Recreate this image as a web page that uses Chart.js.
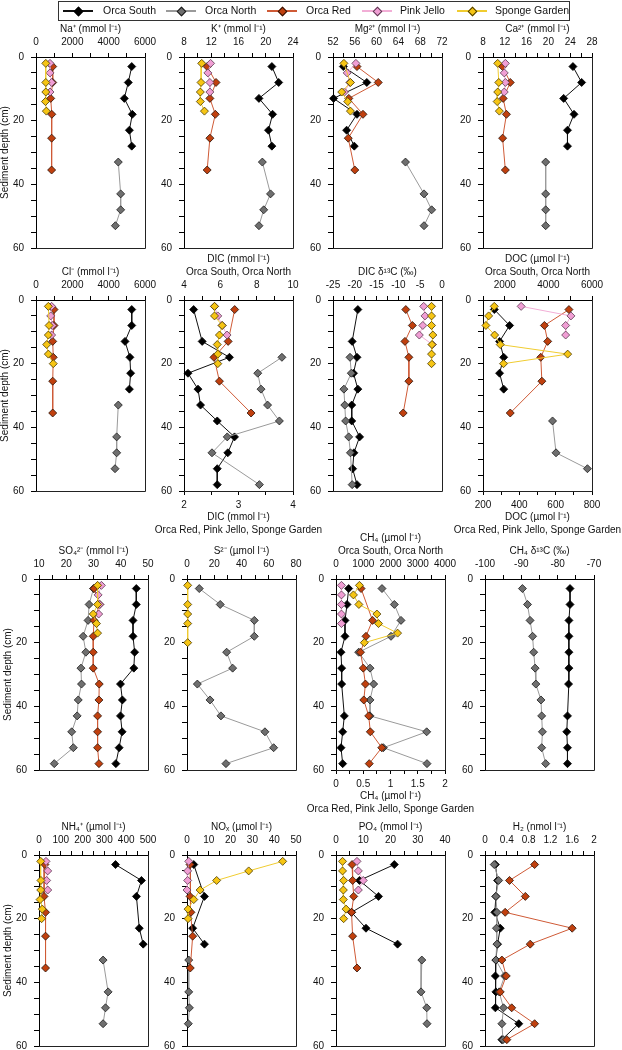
<!DOCTYPE html>
<html>
<head>
<meta charset="utf-8">
<script src="https://cdn.jsdelivr.net/npm/chart.js@4.4.0/dist/chart.umd.min.js"></script>
<style>
body { margin: 0; background: #fff; width: 622px; height: 1050px; position: relative; overflow: hidden;
       font-family: "Liberation Sans", Arial, sans-serif; }
canvas { position: absolute; }
#legend { position: absolute; left: 58px; top: 1px; width: 510px; height: 18px; border: 1px solid #333; }
.lg { position: absolute; }
</style>
</head>
<body>
<div id="legend"></div>
<script>
// stations
const stations = ['Orca South', 'Orca North', 'Orca Red', 'Pink Jello', 'Sponge Garden'];

// sample depths (cm)
const depth12 = [3, 8, 13, 18, 23, 28, 33, 38, 43, 48, 53, 58];
const depthSouth = [3, 8, 13, 18, 23, 28];
const depthNorth = [33, 43, 48, 53];
const depthRed = [3, 8, 13, 18, 25.5, 35.5];
const depthRed5 = [3, 13, 18, 25.5, 35.5];
const depthPink = [2, 5, 8, 11];
const depthPink5 = [2, 5, 8, 11, 14];
const depthSponge = [2, 5, 8, 11, 14, 17, 20];
const depthSponge5 = [2, 8, 11, 14, 17];
const depthSponge6 = [2, 8, 11, 14, 17, 20];
const depthNo8 = [3, 13, 18, 23, 28, 33, 38, 43, 48, 53, 58];
const depthNo38 = [3, 8, 13, 18, 23, 28, 33, 43, 48, 53, 58];
const depthDeep = [18, 23, 28, 33, 38, 43, 48, 58];

// Na+
const naSouth = [5270, 5080, 4860, 5300, 5140, 5270];
const naNorth = [4530, 4660, 4660, 4370];
const naRed = [920, 920, 810, 870, 860, 860];
const naPink = [770, 770, 860, 770];
const naSponge = [540, 540, 540, 520, 570];
// K+
const kSouth = [20.9, 21.9, 19.0, 21.0, 20.4, 20.9];
const kNorth = [19.5, 20.7, 19.7, 19.0];
const kRed = [11.4, 12.7, 11.8, 12.6, 11.8, 11.4];
const kPink = [11.9, 11.5, 11.8, 11.8];
const kSponge = [10.6, 10.5, 10.4, 10.4, 11.0];
// Mg2+
const mgSouth = [53.9, 58.2, 52.1, 56.4, 54.5, 55.9];
const mgNorth = [65.3, 68.7, 70.1, 68.7];
const mgRed = [56.4, 60.3, 54.9, 57.5, 54.8, 56.0];
const mgPink = [56.2, 54.6, 55.1, 54.1];
const mgSponge = [54.0, 55.2, 53.6, 54.7, 55.2];
// Ca2+
const caSouth = [24.5, 26.1, 22.8, 24.7, 23.5, 23.5];
const caNorth = [19.5, 19.5, 19.5, 19.5];
const caRed = [11.6, 13.0, 11.7, 12.3, 11.6, 12.1];
const caPink = [12.1, 11.9, 12.1, 11.9];
const caSponge = [10.7, 10.9, 10.7, 10.6, 11.0];
// Cl-
const clSouth = [5270, 5270, 4900, 5170, 5210, 5140];
const clNorth = [4530, 4440, 4440, 4350];
const clRed = [990, 990, 920, 950, 920, 920];
const clPink = [860, 810, 900, 860];
const clSponge = [680, 720, 680, 590, 680, 950];
// DIC (top axis: South, North; bottom axis: Red, Pink, Sponge)
const dicSouth = [4.53, 5.0, 6.5, 4.22, 4.77, 4.91, 5.83, 6.78, 6.41, 5.83, 5.83];
const dicNorth = [9.39, 8.06, 8.24, 8.6, 9.25, 6.38, 5.54, 8.15];
const dicRed = [2.93, 2.81, 2.55, 2.65, 3.23];
const dicPink = [2.56, 2.62, 2.70, 2.79];
const dicSponge = [2.56, 2.56, 2.70, 2.65, 2.61, 2.62, 2.62];
// DIC d13C
const d13South = [-19.3, -20.6, -19.5, -20.3, -19.3, -20.7, -20.7, -18.9, -20.2, -20.5, -19.5];
const d13North = [-21.1, -20.8, -22.5, -22.3, -22.1, -21.4, -21.0, -20.6];
const d13Red = [-8.3, -6.8, -8.5, -7.6, -7.6, -8.9];
const d13Pink = [-4.2, -3.9, -4.4, -5.2, -2.2];
const d13Sponge = [-2.4, -2.4, -2.4, -2.1, -2.3, -2.4, -2.4];
// DOC
const docSouth = [1520, 2220, 1760, 1950, 1760, 1950];
const docNorthDepth = [38, 48, 53];
const docNorth = [4190, 4350, 5790];
const docRed = [673, 538, 556, 518, 524, 350];
const docPink = [410, 684, 655, 655];
const docSponge = [262, 231, 216, 264, 295, 666, 313];
// SO4 2-
const so4South = [45.7, 45.7, 44.5, 44.5, 45.1, 44.8, 39.9, 40.6, 39.9, 40.5, 39.4, 38.2];
const so4North = [30.0, 28.4, 28.0, 26.2, 27.2, 25.4, 25.6, 24.4, 24.0, 22.0, 22.6, 15.6];
const so4Red = [30.2, 32.3, 30.2, 29.9, 29.9, 29.9, 32.1, 32.0, 31.5, 31.5, 31.5, 32.0];
const so4Pink = [32.9, 31.7, 32.3, 31.9];
const so4Sponge = [31.5, 31.5, 29.9, 31.1, 31.5];
// S2-
const s2North = [9.0, 24.4, 49.4, 49.4, 29.1, 33.5, 7.6, 16.9, 24.9, 57.2, 63.6, 28.6];
const s2SpongeDepth = [2, 8, 11, 14, 20];
const s2Sponge = [0.5, 0.5, 0.5, 0.5, 0.5];
// CH4 (top axis: South, North; bottom axis: Red, Pink, Sponge)
const ch4South = [465, 404, 330, 330, 183, 208, 208, 306, 245, 183, 245];
const ch4North = [1688, 2141, 2385, 2018, 832, 1248, 1382, 1248, 1248, 3327, 1737, 3339];
const ch4Red = [0.46, 0.67, 0.55, 0.45, 0.50, 0.54, 0.51, 0.60, 0.63, 0.84, 0.61];
const ch4Pink = [0.10, 0.10, 0.10, 0.10, 0.10];
const ch4Sponge = [0.43, 0.32, 0.42, 0.75, 0.78, 1.13, 0.52];
// CH4 d13C
const cd13South = [-76.6, -76.6, -76.9, -76.9, -76.9, -76.9, -77.0, -77.3, -77.5, -77.3, -77.3];
const cd13North = [-89.7, -88.3, -87.6, -86.9, -86.6, -86.2, -86.0, -84.6, -84.4, -84.2, -84.4, -83.3];
// NH4+
const nh4SouthDepth = [3, 8, 13, 23, 28];
const nh4South = [351, 470, 447, 460, 478];
const nh4North = [294, 317, 305, 294];
const nh4Red = [27, 23, 30, 30, 30];
const nh4Pink = [32, 40, 35, 40];
const nh4Sponge = [8, 9, 8, 5, 15, 12];
// NOx
const noxSouthDepth = [3, 13, 23, 28];
const noxSouth = [3.1, 8.0, 2.6, 8.0];
const noxNorth = [0.8, 0.8, 1.1, 0.6];
const noxRed = [1.4, 1.4, 1.8, 2.6, 1.5];
const noxPink = [0.8, 0.3, 0.3, 0.0];
const noxSponge = [43.9, 28.3, 13.6, 6.0, 3.1, 0.5, 0.5];
// PO4
const po4South = [21.4, 8.6, 15.6, 5.7, 11.0, 22.6];
const po4North = [31.5, 31.2, 33.3, 33.4];
const po4Red = [5.9, 6.1, 6.5, 5.7, 6.1, 7.7];
const po4Pink = [7.7, 8.2, 10.0, 8.2];
const po4Sponge = [2.4, 2.4, 2.8, 2.7, 2.7, 3.7, 2.8];
// H2
const h2South = [0.19, 0.23, 0.20, 0.18, 0.28, 0.23, 0.20, 0.19, 0.20, 0.19, 0.62, 0.31];
const h2North = [0.17, 0.25, 0.20, 0.22, 0.21, 0.22, 0.20, 0.36, 0.26, 0.34, 0.31, 0.33];
const h2Red = [0.91, 0.45, 0.74, 0.37, 1.60, 0.83, 0.31, 0.39, 0.28, 0.49, 0.91, 0.40];

// axes: [min, max, tick step, label step]
const depthAxis = [0, 60, 5, 20];

// look
const markerFill = ['#000000', '#6f6f6f', '#c0400e', '#f09ed4', '#f6c514'];
const markerEdge = ['#000000', '#1a1a1a', '#2a1208', '#5a3a50', '#4a3a00'];
const lineColor = ['#111111', '#9a9a9a', '#cf5a36', '#f2aed6', '#f0cc30'];
const FONT = '"Liberation Sans", Arial, sans-serif';

const rowTop = [57, 300, 579, 855];
const colLeft = [[36, 184, 333, 483], [36, 184, 333, 483], [39, 187, 336, 485], [39, 187, 336, 485]];
const PLOT_W = 109, PLOT_H = 191, AX_L = 36, AX_T = 50, AX_B = 50, PAD_R = 45;

const panels = [
  {row: 0, col: 0, top: ['Na⁺ (mmol l⁻¹)'], x: [0, 6000, 1000, 2000],
   s: [[0, depthSouth, naSouth], [1, depthNorth, naNorth], [2, depthRed, naRed], [3, depthPink, naPink], [4, depthSponge5, naSponge]]},
  {row: 0, col: 1, top: ['K⁺ (mmol l⁻¹)'], x: [8, 24, 2, 4],
   s: [[0, depthSouth, kSouth], [1, depthNorth, kNorth], [2, depthRed, kRed], [3, depthPink, kPink], [4, depthSponge5, kSponge]]},
  {row: 0, col: 2, top: ['Mg²⁺ (mmol l⁻¹)'], x: [52, 72, 2, 4],
   s: [[0, depthSouth, mgSouth], [1, depthNorth, mgNorth], [2, depthRed, mgRed], [3, depthPink, mgPink], [4, depthSponge5, mgSponge]]},
  {row: 0, col: 3, top: ['Ca²⁺ (mmol l⁻¹)'], x: [8, 28, 2, 4],
   s: [[0, depthSouth, caSouth], [1, depthNorth, caNorth], [2, depthRed, caRed], [3, depthPink, caPink], [4, depthSponge5, caSponge]]},

  {row: 1, col: 0, top: ['Cl⁻ (mmol l⁻¹)'], x: [0, 6000, 1000, 2000],
   s: [[0, depthSouth, clSouth], [1, depthNorth, clNorth], [2, depthRed, clRed], [3, depthPink, clPink], [4, depthSponge6, clSponge]]},
  {row: 1, col: 1, top: ['DIC (mmol l⁻¹)', 'Orca South, Orca North'], x: [4, 10, 1, 2],
   bottom: ['DIC (mmol l⁻¹)', 'Orca Red, Pink Jello, Sponge Garden'], x2: [2, 4, 0.5, 1],
   s: [[0, depthNo8, dicSouth], [1, depthDeep, dicNorth], [2, depthRed5, dicRed, 'x2'], [3, depthPink, dicPink, 'x2'], [4, depthSponge, dicSponge, 'x2']]},
  {row: 1, col: 2, top: ['DIC δ¹³C (‰)'], x: [-25, 0, 2.5, 5],
   s: [[0, depthNo8, d13South], [1, depthDeep, d13North], [2, depthRed, d13Red], [3, depthPink5, d13Pink], [4, depthSponge, d13Sponge]]},
  {row: 1, col: 3, top: ['DOC (µmol l⁻¹)', 'Orca South, Orca North'], x: [1000, 6000, 1000, 2000],
   bottom: ['DOC (µmol l⁻¹)', 'Orca Red, Pink Jello, Sponge Garden'], x2: [200, 800, 100, 200],
   s: [[0, depthSouth, docSouth], [1, docNorthDepth, docNorth], [2, depthRed, docRed, 'x2'], [3, depthPink, docPink, 'x2'], [4, depthSponge, docSponge, 'x2']]},

  {row: 2, col: 0, top: ['SO₄²⁻ (mmol l⁻¹)'], x: [10, 50, 5, 10],
   s: [[0, depth12, so4South], [1, depth12, so4North], [2, depth12, so4Red], [3, depthPink, so4Pink], [4, depthSponge5, so4Sponge]]},
  {row: 2, col: 1, top: ['S²⁻ (µmol l⁻¹)'], x: [0, 80, 10, 20],
   s: [[1, depth12, s2North], [4, s2SpongeDepth, s2Sponge]]},
  {row: 2, col: 2, top: ['CH₄ (µmol l⁻¹)', 'Orca South, Orca North'], x: [0, 4000, 500, 1000],
   bottom: ['CH₄ (µmol l⁻¹)', 'Orca Red, Pink Jello, Sponge Garden'], x2: [0, 2, 0.25, 0.5],
   s: [[0, depthNo38, ch4South], [1, depth12, ch4North], [2, depthNo8, ch4Red, 'x2'], [3, depthPink5, ch4Pink, 'x2'], [4, depthSponge, ch4Sponge, 'x2']]},
  {row: 2, col: 3, top: ['CH₄ δ¹³C (‰)'], x: [-100, -70, 5, 10],
   s: [[0, depthNo38, cd13South], [1, depth12, cd13North]]},

  {row: 3, col: 0, top: ['NH₄⁺ (µmol l⁻¹)'], x: [0, 500, 50, 100],
   s: [[0, nh4SouthDepth, nh4South], [1, depthNorth, nh4North], [2, depthRed5, nh4Red], [3, depthPink, nh4Pink], [4, depthSponge6, nh4Sponge]]},
  {row: 3, col: 1, top: ['NOₓ (µmol l⁻¹)'], x: [0, 50, 5, 10],
   s: [[0, noxSouthDepth, noxSouth], [1, depthNorth, noxNorth], [2, depthRed5, noxRed], [3, depthPink, noxPink], [4, depthSponge, noxSponge]]},
  {row: 3, col: 2, top: ['PO₄ (mmol l⁻¹)'], x: [0, 40, 5, 10],
   s: [[0, depthSouth, po4South], [1, depthNorth, po4North], [2, depthRed, po4Red], [3, depthPink, po4Pink], [4, depthSponge, po4Sponge]]},
  {row: 3, col: 3, top: ['H₂ (nmol l⁻¹)'], x: [0, 2, 0.2, 0.4],
   s: [[0, depth12, h2South], [1, depth12, h2North], [2, depth12, h2Red]]}
];

function series(st, depths, values, axis) {
  return {
    label: stations[st],
    data: depths.map((d, i) => ({x: values[i], y: d})),
    xAxisID: axis || 'x',
    showLine: true,
    borderColor: lineColor[st],
    borderWidth: 1,
    pointStyle: 'rectRot',
    pointRadius: 4,
    pointHoverRadius: 4,
    pointBackgroundColor: markerFill[st],
    pointBorderColor: markerEdge[st],
    pointBorderWidth: 0.8,
    order: 5 - st,
    clip: 8
  };
}

function labelOf(v, every) {
  const k = v / every;
  return Math.abs(k - Math.round(k)) < 1e-6 ? String(Math.round(v * 100) / 100) : '';
}

function xScale(ax, pos, h) {
  return {
    type: 'linear', position: pos, min: ax[0], max: ax[1],
    ticks: {stepSize: ax[2], autoSkip: false, maxRotation: 0, minRotation: 0, padding: 4.5,
            color: '#111', font: {family: FONT, size: 10, lineHeight: 1.2},
            callback: v => labelOf(v, ax[3])},
    grid: {drawOnChartArea: false, tickLength: 4, color: '#000', lineWidth: 1},
    border: {display: true, color: '#000', width: 1},
    afterFit: s => { s.height = h; }
  };
}

// right and bottom edges of each panel box
const frame = {
  id: 'frame',
  beforeDatasetsDraw(chart) {
    const {ctx, chartArea: a} = chart;
    const r = Math.round(a.right) + 0.5, b = Math.round(a.bottom) + 0.5;
    ctx.save();
    ctx.strokeStyle = '#222';
    ctx.lineWidth = 1;
    ctx.beginPath();
    ctx.moveTo(r, a.top);
    ctx.lineTo(r, b);
    ctx.lineTo(a.left, b);
    ctx.stroke();
    ctx.restore();
  }
};

// axis titles above and below the box (may be wider than the box)
const axisText = {
  id: 'axisText',
  afterDraw(chart, args, opts) {
    const {ctx, chartArea: a} = chart;
    const cx = (a.left + a.right) / 2;
    const top = opts.top || [], bottom = opts.bottom || [];
    ctx.save();
    ctx.font = '10px ' + FONT;
    ctx.fillStyle = '#111';
    ctx.textAlign = 'center';
    ctx.textBaseline = 'middle';
    top.forEach((t, i) => ctx.fillText(t, cx, a.top - 27.5 - (top.length - 1 - i) * 13.5));
    bottom.forEach((t, i) => ctx.fillText(t, cx, a.bottom + 26 + i * 13.5));
    ctx.restore();
  }
};

panels.forEach(p => {
  const cv = document.createElement('canvas');
  const w = AX_L + PLOT_W + PAD_R, h = AX_T + PLOT_H + AX_B;
  cv.width = w; cv.height = h;
  cv.style.left = (colLeft[p.row][p.col] - AX_L) + 'px';
  cv.style.top = (rowTop[p.row] - AX_T) + 'px';
  cv.style.width = w + 'px'; cv.style.height = h + 'px';
  document.body.appendChild(cv);

  const scales = {
    x: xScale(p.x, 'top', AX_T),
    y: {
      type: 'linear', position: 'left', reverse: true, min: depthAxis[0], max: depthAxis[1],
      ticks: {stepSize: depthAxis[2], autoSkip: false, padding: 7, color: '#111',
              font: {family: FONT, size: 10, lineHeight: 1.2},
              callback: v => labelOf(v, depthAxis[3])},
      grid: {drawOnChartArea: false, tickLength: 5, color: '#000', lineWidth: 1},
      border: {display: true, color: '#000', width: 1},
      title: {display: p.col === 0, text: 'Sediment depth (cm)', color: '#111',
              font: {family: FONT, size: 10, lineHeight: 1}, padding: {top: 0, bottom: 0}},
      afterFit: s => { s.width = AX_L; }
    }
  };
  if (p.x2) scales.x2 = xScale(p.x2, 'bottom', AX_B);

  new Chart(cv, {
    type: 'scatter',
    data: {datasets: p.s.map(a => series(a[0], a[1], a[2], a[3]))},
    options: {
      responsive: false,
      animation: false,
      events: [],
      layout: {padding: {left: 0, top: 0, right: PAD_R, bottom: p.x2 ? 0 : AX_B}},
      plugins: {
        legend: {display: false},
        tooltip: {enabled: false},
        axisText: {top: p.top, bottom: p.bottom}
      },
      scales: scales
    },
    plugins: [frame, axisText]
  });
});

// shared legend
const legendLeft = [63, 166, 267, 362, 457];
const legendTextLeft = [103, 205, 306, 400, 495];
const lg = document.body;
stations.forEach((name, i) => {
  const line = document.createElement('div');
  line.className = 'lg';
  Object.assign(line.style, {left: legendLeft[i] + 'px', top: '10px', width: '30px', height: '1.5px', background: lineColor[i]});
  lg.appendChild(line);
  const dia = document.createElement('div');
  dia.className = 'lg';
  Object.assign(dia.style, {left: (legendLeft[i] + 12) + 'px', top: '7.5px', width: '5px', height: '5px',
    background: markerFill[i], border: '0.8px solid ' + markerEdge[i], transform: 'rotate(45deg)'});
  lg.appendChild(dia);
  const txt = document.createElement('div');
  txt.className = 'lg';
  Object.assign(txt.style, {left: legendTextLeft[i] + 'px', top: '4px', fontSize: '10.5px', lineHeight: '13px', color: '#111'});
  txt.textContent = name;
  lg.appendChild(txt);
});
</script>
</body>
</html>
